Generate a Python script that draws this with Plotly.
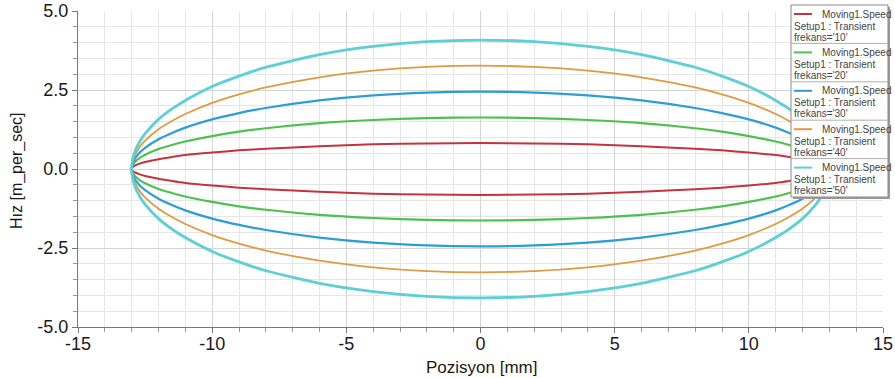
import plotly.graph_objects as go

# Position [mm] samples along one half of each loop
position = [-13, -12.99, -12.9, -12.7, -12.5, -12, -11.5, -11, -10, -9, -8, -6, -4, -2,
            0, 2, 4, 6, 8, 9, 10, 11, 11.5, 12, 12.5, 12.7, 12.9, 12.99, 13]

# Speed magnitude [m/s] at those positions
speed_10 = [0, 0.03, 0.10, 0.17, 0.22, 0.31, 0.38, 0.44, 0.52, 0.59, 0.64, 0.72, 0.78, 0.81,
            0.82, 0.81, 0.78, 0.72, 0.64, 0.59, 0.52, 0.44, 0.38, 0.31, 0.22, 0.17, 0.10, 0.03, 0]
speed_20 = [0, 0.06, 0.20, 0.35, 0.45, 0.63, 0.76, 0.87, 1.04, 1.18, 1.29, 1.45, 1.55, 1.61,
            1.63, 1.61, 1.55, 1.45, 1.29, 1.18, 1.04, 0.87, 0.76, 0.63, 0.45, 0.35, 0.20, 0.06, 0]
speed_30 = [0, 0.10, 0.30, 0.52, 0.67, 0.94, 1.14, 1.31, 1.57, 1.77, 1.93, 2.17, 2.33, 2.42,
            2.45, 2.42, 2.33, 2.17, 1.93, 1.77, 1.57, 1.31, 1.14, 0.94, 0.67, 0.52, 0.30, 0.10, 0]
speed_40 = [0, 0.13, 0.40, 0.70, 0.90, 1.26, 1.52, 1.74, 2.09, 2.36, 2.58, 2.90, 3.11, 3.23,
            3.27, 3.23, 3.11, 2.90, 2.58, 2.36, 2.09, 1.74, 1.52, 1.26, 0.90, 0.70, 0.40, 0.13, 0]
speed_50 = [0, 0.16, 0.51, 0.87, 1.12, 1.57, 1.90, 2.17, 2.61, 2.94, 3.22, 3.62, 3.88, 4.03,
            4.08, 4.03, 3.88, 3.62, 3.22, 2.94, 2.61, 2.17, 1.90, 1.57, 1.12, 0.87, 0.51, 0.16, 0]

frequencies = ["10", "20", "30", "40", "50"]
speeds = [speed_10, speed_20, speed_30, speed_40, speed_50]

x_tick_vals = [-15, -10, -5, 0, 5, 10, 15]
x_tick_text = ["-15", "-10", "-5", "0", "5", "10", "15"]
y_tick_vals = [-5, -2.5, 0, 2.5, 5]
y_tick_text = ["-5.0", "-2.5", "0.0", "2.5", "5.0"]

colors = ["#c4343f", "#4dc14d", "#2b9fd5", "#e09a40", "#5ccfd7"]
widths = [2, 2.2, 2.2, 1.8, 2.8]

W, H = 895, 378
ML, MR, MT, MB = 78, 12, 11, 51
PW, PH = W - ML - MR, H - MT - MB

def px(x):
    return (x - ML) / PW

def py(y):
    return (H - MB - y) / PH

fig = go.Figure()
for f, sp, c, w in zip(frequencies, speeds, colors, widths):
    xs = position + position[::-1]
    ys = sp + [-v for v in sp[::-1]]
    fig.add_trace(go.Scatter(x=xs, y=ys, mode="lines", line=dict(color=c, width=w, shape="spline", smoothing=0.6),
                             name=f"frekans='{f}'", showlegend=False))

grid_minor = "#e6e6e6"
grid_major = "#d4d4d4"
tfont = dict(family="Liberation Sans, Arial", size=18, color="#1a1a1a")
fig.update_xaxes(range=[-15, 15], tickvals=x_tick_vals, ticktext=x_tick_text, showgrid=True, gridcolor=grid_major, gridwidth=1,
                 zeroline=False, showline=True, linecolor="#777", linewidth=1.2, automargin=False,
                 ticks="outside", ticklen=5, tickcolor="#777", tickfont=tfont, ticklabelstandoff=-5,
                 minor=dict(dtick=1, tick0=-15, showgrid=True, gridcolor=grid_minor, ticks="outside", ticklen=4, tickcolor="#999"))
fig.update_yaxes(range=[-5, 5], tickvals=y_tick_vals, ticktext=y_tick_text, showgrid=True, gridcolor=grid_major, gridwidth=1,
                 zeroline=False, showline=True, linecolor="#777", linewidth=1.2, automargin=False,
                 ticks="outside", ticklen=5, tickcolor="#777", tickfont=tfont,
                 minor=dict(dtick=0.5, tick0=-5, showgrid=True, gridcolor=grid_minor, ticks="outside", ticklen=4, tickcolor="#999"))

annotations = []
shapes = []
# axis titles placed as annotations for exact positioning
annotations.append(dict(xref="paper", yref="paper", x=px(481), y=py(367), text="Pozisyon [mm]", showarrow=False,
                        xanchor="center", yanchor="middle", font=dict(family="Liberation Sans, Arial", size=17, color="#1a1a1a")))
annotations.append(dict(xref="paper", yref="paper", x=px(17), y=py(171), text="Hız [m_per_sec]", showarrow=False, textangle=-90,
                        xanchor="center", yanchor="middle", font=dict(family="Liberation Sans, Arial", size=16, color="#1a1a1a")))

# Custom legend box (drawn like the original software legend)
lx0, lx1, ly0 = 791, 888, 5
entry_h = 38.4
ly1 = ly0 + entry_h * len(frequencies)
shapes.append(dict(type="rect", xref="paper", yref="paper", x0=px(lx0 + 2), x1=px(lx1 + 2), y0=py(ly1 + 2), y1=py(ly0 + 2),
                   fillcolor="#9a9a9a", line=dict(width=0), layer="above"))
shapes.append(dict(type="rect", xref="paper", yref="paper", x0=px(lx0), x1=px(lx1), y0=py(ly1), y1=py(ly0),
                   fillcolor="white", line=dict(color="#8a8a8a", width=1), layer="above"))
fnt = dict(family="Liberation Sans, Arial", size=10, color="#444")
for i, (f, c) in enumerate(zip(frequencies, colors)):
    top = ly0 + i * entry_h
    if i > 0:
        shapes.append(dict(type="line", xref="paper", yref="paper", x0=px(lx0), x1=px(lx1), y0=py(top), y1=py(top),
                           line=dict(color="#b0b0b0", width=1), layer="above"))
    shapes.append(dict(type="line", xref="paper", yref="paper", x0=px(794), x1=px(812), y0=py(top + 9), y1=py(top + 9),
                       line=dict(color=c, width=2), layer="above"))
    annotations.append(dict(xref="paper", yref="paper", x=px(820), y=py(top + 9), text="Moving1.Speed",
                            xanchor="left", yanchor="middle", showarrow=False, font=fnt))
    annotations.append(dict(xref="paper", yref="paper", x=px(792), y=py(top + 21), text="Setup1 : Transient",
                            xanchor="left", yanchor="middle", showarrow=False, font=fnt))
    annotations.append(dict(xref="paper", yref="paper", x=px(792), y=py(top + 32), text=f"frekans='{f}'",
                            xanchor="left", yanchor="middle", showarrow=False, font=fnt))

fig.update_layout(width=W, height=H, margin=dict(l=ML, r=MR, t=MT, b=MB),
                  plot_bgcolor="white", paper_bgcolor="white", showlegend=False,
                  shapes=shapes, annotations=annotations)

fig.write_html("out.html")
